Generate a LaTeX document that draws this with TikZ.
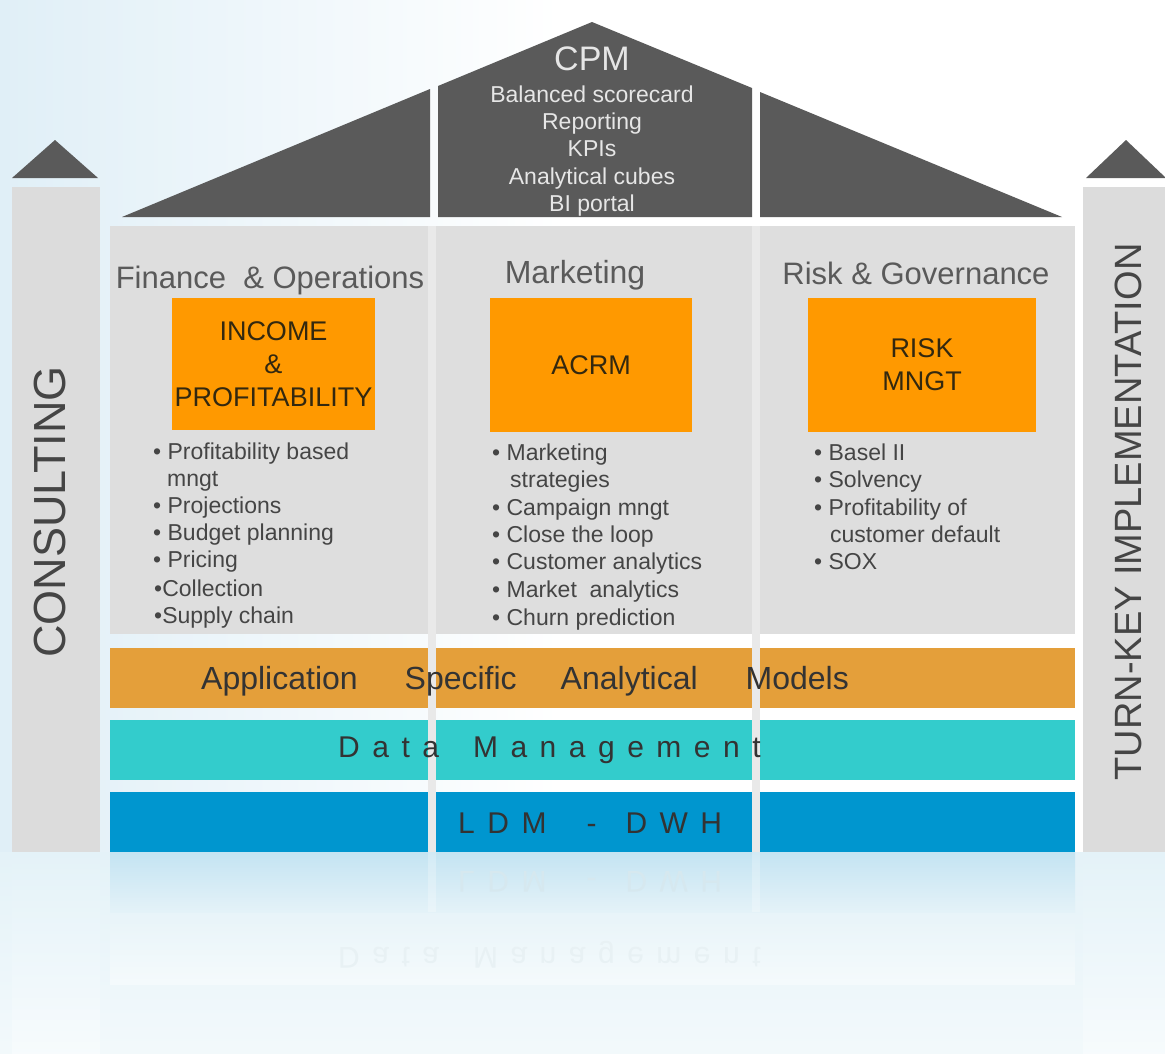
\documentclass[tikz,border=0pt]{standalone}
\usepackage{fontspec}
\setmainfont{Liberation Sans}
\definecolor{roof}{HTML}{5A5A5A}
\definecolor{pillar}{HTML}{DCDCDC}
\definecolor{bodygray}{HTML}{DEDEDE}
\definecolor{stripe}{HTML}{E9E9E9}
\definecolor{obox}{HTML}{FF9900}
\definecolor{oband}{HTML}{E49F3A}
\definecolor{cband}{HTML}{33CCCC}
\definecolor{bband}{HTML}{0096CF}
\definecolor{headtxt}{HTML}{5A5A5A}
\definecolor{listtxt}{HTML}{454545}
\definecolor{boxtxt}{HTML}{33280F}
\definecolor{bandtxt}{HTML}{333333}
\definecolor{cpmtxt}{HTML}{E6E6E6}
\definecolor{bgblue}{HTML}{E0EFF7}
\definecolor{refblue}{HTML}{C4E4F2}
\definecolor{reffade}{HTML}{E4F2F8}
\definecolor{reffaint}{HTML}{EAF5F9}
\definecolor{reftxt}{HTML}{D6E8EF}
\definecolor{reftxtb}{HTML}{E8F1F4}
\newcommand\fsz[1]{\fontsize{#1}{#1}\selectfont}
\newcommand\lsp{\hspace{12.5pt}}
\begin{document}
\begin{tikzpicture}[x=1pt,y=-1pt,
  txt/.style={inner sep=0pt, anchor=base},
  head/.style={txt, text=headtxt, font=\fsz{31}},
  item/.style={inner sep=0pt, anchor=base west, text=listtxt, font=\fsz{23}},
  cpmitem/.style={txt, text=cpmtxt, font=\fsz{23}},
  obx/.style={fill=obox, inner sep=0pt, align=center, text=boxtxt,
    font=\fontsize{27}{33}\selectfont},
  bandlabel/.style={txt, text=bandtxt},
  side/.style={inner sep=0pt, rotate=90, text=listtxt},
]
\useasboundingbox (0,0) rectangle (1165,1053);
\clip (0,0) rectangle (1165,1053);
% background
\fill[white] (0,0) rectangle (1165,1053);
\shade[left color=bgblue, right color=white] (0,0) rectangle (560,852);
\shade[top color=reffade, bottom color=reffaint!60!white] (0,852) rectangle (1165,1053);

% pillars
\fill[roof] (12,178) -- (55,140) -- (98,178) -- cycle;
\fill[pillar] (12,187) rectangle (100,852);
\fill[roof] (1086,178) -- (1126,140) -- (1166,178) -- cycle;
\fill[pillar] (1083,187) rectangle (1165,852);

% roof
\fill[roof] (122,217) -- (430,89) -- (430,217) -- cycle;
\fill[roof] (438,217) -- (438,86) -- (592,22) -- (752,88) -- (752,217) -- cycle;
\fill[roof] (760,92) -- (1062,217) -- (760,217) -- cycle;

% body and bands
\fill[bodygray] (110,226) rectangle (1075,634);
\fill[oband] (110,648) rectangle (1075,708);
\fill[cband] (110,720) rectangle (1075,780);
\fill[bband] (110,792) rectangle (1075,852);
\fill[stripe] (428,226) rectangle (436,852);
\fill[stripe] (752,226) rectangle (760,852);

% reflections
\shade[top color=refblue, bottom color=reffade] (110,852) rectangle (1075,912);
\fill[white, opacity=0.25] (428,852) rectangle (436,912);
\fill[white, opacity=0.25] (752,852) rectangle (760,912);
\shade[top color=reffaint, bottom color=reffaint!50!white] (110,924) rectangle (1075,984);
\shade[top color=reffade, bottom color=reffaint!40!white] (12,852) rectangle (100,1053);
\shade[top color=reffade, bottom color=reffaint!40!white] (1083,852) rectangle (1165,1053);
\node[txt, text=reftxt, font=\fsz{30}, yscale=-1, anchor=base west] (rldm) at (458,871)
  {L\lsp D\lsp M\hspace{40pt}-\hspace{29pt}D\lsp W\lsp H};
\node[txt, text=reftxtb, font=\fsz{30}, yscale=-1, anchor=base west] (rdata) at (338,947)
  {D\lsp a\lsp t\lsp a\hspace{34pt}M\lsp a\lsp n\lsp a\lsp g\lsp e\lsp m\lsp e\lsp n\lsp t};

% CPM
\node[txt, text=cpmtxt, font=\fsz{34}] (cpm) at (592,70) {CPM};
\foreach \y/\t [count=\i] in {102/Balanced scorecard, 129/Reporting, 156/KPIs,
  184/Analytical cubes, 211/BI portal}
  \node[cpmitem] (cpm\i) at (592,\y) {\t};

% side labels
\node[side, font=\fsz{45}] (consulting) at (50,512) {CONSULTING};
\node[side, font=\fsz{38}] (turnkey) at (1128,512) {TURN-KEY IMPLEMENTATION};

% column headings
\node[head] (hfin) at (270,288) {Finance\ \ \& Operations};
\node[head, font=\fsz{32}] (hmkt) at (575,283) {Marketing};
\node[head] (hrisk) at (916,284) {Risk \& Governance};

% orange boxes
\node[obx, minimum width=203pt, minimum height=132pt] (income) at (273.5,364)
  {INCOME\\\&\\PROFITABILITY};
\node[obx, minimum width=202pt, minimum height=134pt] (acrm) at (591,365) {ACRM};
\node[obx, minimum width=228pt, minimum height=134pt] (risk) at (922,365)
  {RISK\\MNGT};

% lists
\foreach \x/\y/\t [count=\i] in {153/459/{• Profitability based}, 167/486/mngt,
  153/513/{• Projections}, 153/540/{• Budget planning}, 153/567/{• Pricing},
  154/596/{•Collection}, 154/623/{•Supply chain}}
  \node[item] (fin\i) at (\x,\y) {\t};
\foreach \x/\y/\t [count=\i] in {492/460/{• Marketing}, 510/487/strategies,
  492/515/{• Campaign mngt}, 492/542/{• Close the loop},
  492/569/{• Customer analytics}, 492/597/{• Market\ \ analytics},
  492/625/{• Churn prediction}}
  \node[item] (mkt\i) at (\x,\y) {\t};
\foreach \x/\y/\t [count=\i] in {814/460/{• Basel II}, 814/487/{• Solvency},
  814/515/{• Profitability of}, 830/542/{customer default}, 814/569/{• SOX}}
  \node[item] (rsk\i) at (\x,\y) {\t};

% band labels
\node[bandlabel, anchor=base west, font=\fsz{32}] (asam) at (201,689)
  {Application\hspace{47pt}Specific\hspace{44pt}Analytical\hspace{48pt}Models};
\node[bandlabel, anchor=base west, font=\fsz{30}] (dm) at (338,757)
  {D\lsp a\lsp t\lsp a\hspace{34pt}M\lsp a\lsp n\lsp a\lsp g\lsp e\lsp m\lsp e\lsp n\lsp t};
\node[bandlabel, anchor=base west, font=\fsz{30}] (ldm) at (458,833)
  {L\lsp D\lsp M\hspace{40pt}-\hspace{29pt}D\lsp W\lsp H};
\end{tikzpicture}
\end{document}
